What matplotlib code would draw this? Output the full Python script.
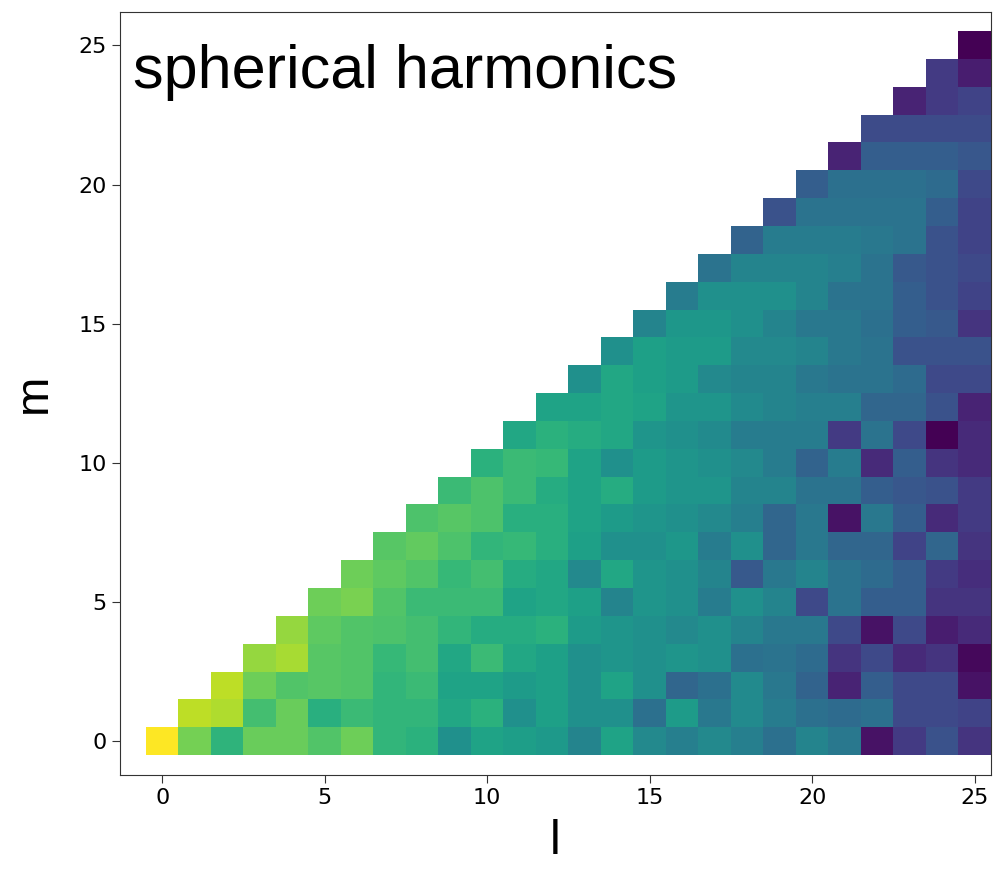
import numpy as np
import matplotlib
matplotlib.use("Agg")
import matplotlib.pyplot as plt

# colour value of each cell, row m holds l = m .. 25
power_m00 = [1.0, 0.79, 0.65, 0.77, 0.77, 0.73, 0.78, 0.66, 0.64, 0.50, 0.58, 0.56, 0.54, 0.45, 0.58, 0.47, 0.43, 0.47, 0.43, 0.37, 0.45, 0.40, 0.05, 0.17, 0.25, 0.15]
power_m01 = [0.90, 0.88, 0.70, 0.77, 0.63, 0.68, 0.66, 0.66, 0.60, 0.64, 0.50, 0.57, 0.50, 0.50, 0.37, 0.55, 0.40, 0.48, 0.42, 0.37, 0.35, 0.37, 0.22, 0.22, 0.20]
power_m02 = [0.90, 0.78, 0.73, 0.74, 0.73, 0.66, 0.68, 0.58, 0.58, 0.55, 0.57, 0.50, 0.58, 0.50, 0.33, 0.37, 0.48, 0.40, 0.32, 0.10, 0.30, 0.22, 0.22, 0.05]
power_m03 = [0.84, 0.87, 0.74, 0.73, 0.67, 0.70, 0.60, 0.68, 0.60, 0.57, 0.50, 0.52, 0.50, 0.52, 0.50, 0.37, 0.38, 0.35, 0.15, 0.22, 0.12, 0.15, 0.02]
power_m04 = [0.84, 0.75, 0.73, 0.72, 0.70, 0.66, 0.62, 0.62, 0.64, 0.55, 0.52, 0.50, 0.47, 0.50, 0.45, 0.40, 0.40, 0.22, 0.05, 0.22, 0.08, 0.12]
power_m05 = [0.78, 0.80, 0.73, 0.68, 0.68, 0.68, 0.58, 0.60, 0.57, 0.45, 0.52, 0.50, 0.42, 0.50, 0.45, 0.22, 0.38, 0.30, 0.30, 0.15, 0.15]
power_m06 = [0.78, 0.75, 0.73, 0.67, 0.70, 0.62, 0.60, 0.47, 0.60, 0.52, 0.50, 0.45, 0.28, 0.40, 0.45, 0.38, 0.35, 0.30, 0.17, 0.13]
power_m07 = [0.74, 0.76, 0.72, 0.66, 0.67, 0.63, 0.57, 0.50, 0.50, 0.53, 0.42, 0.50, 0.33, 0.40, 0.33, 0.33, 0.20, 0.33, 0.15]
power_m08 = [0.72, 0.74, 0.72, 0.63, 0.63, 0.58, 0.55, 0.52, 0.50, 0.47, 0.43, 0.33, 0.40, 0.05, 0.40, 0.30, 0.12, 0.17]
power_m09 = [0.68, 0.72, 0.68, 0.62, 0.58, 0.62, 0.55, 0.52, 0.52, 0.45, 0.45, 0.38, 0.38, 0.30, 0.27, 0.25, 0.17]
power_m10 = [0.64, 0.68, 0.67, 0.58, 0.50, 0.55, 0.52, 0.50, 0.47, 0.42, 0.32, 0.42, 0.12, 0.30, 0.15, 0.12]
power_m11 = [0.60, 0.64, 0.62, 0.60, 0.52, 0.50, 0.48, 0.42, 0.42, 0.42, 0.17, 0.38, 0.22, 0.0, 0.12]
power_m12 = [0.58, 0.58, 0.60, 0.58, 0.52, 0.52, 0.48, 0.45, 0.43, 0.43, 0.33, 0.33, 0.25, 0.10]
power_m13 = [0.50, 0.60, 0.57, 0.55, 0.47, 0.45, 0.45, 0.40, 0.38, 0.38, 0.35, 0.22, 0.22]
power_m14 = [0.50, 0.57, 0.55, 0.55, 0.47, 0.47, 0.45, 0.40, 0.38, 0.25, 0.25, 0.25]
power_m15 = [0.45, 0.53, 0.53, 0.50, 0.45, 0.40, 0.40, 0.37, 0.30, 0.28, 0.15]
power_m16 = [0.42, 0.50, 0.50, 0.50, 0.45, 0.38, 0.38, 0.30, 0.25, 0.20]
power_m17 = [0.38, 0.45, 0.45, 0.45, 0.43, 0.38, 0.28, 0.25, 0.22]
power_m18 = [0.32, 0.42, 0.42, 0.42, 0.40, 0.38, 0.25, 0.20]
power_m19 = [0.25, 0.38, 0.38, 0.38, 0.38, 0.30, 0.20]
power_m20 = [0.30, 0.37, 0.37, 0.37, 0.35, 0.22]
power_m21 = [0.10, 0.30, 0.30, 0.30, 0.27]
power_m22 = [0.23, 0.23, 0.23, 0.23]
power_m23 = [0.10, 0.17, 0.20]
power_m24 = [0.17, 0.08]
power_m25 = [0.0]

rows = [power_m00, power_m01, power_m02, power_m03, power_m04, power_m05,
        power_m06, power_m07, power_m08, power_m09, power_m10, power_m11,
        power_m12, power_m13, power_m14, power_m15, power_m16, power_m17,
        power_m18, power_m19, power_m20, power_m21, power_m22, power_m23,
        power_m24, power_m25]

lmax = 25
grid = np.full((lmax + 1, lmax + 1), np.nan)
for m, row in enumerate(rows):
    grid[m, m:] = row
grid = np.ma.masked_invalid(grid)

fig = plt.figure(figsize=(10.03, 8.69), dpi=100)
ax = fig.add_axes([120 / 1003, 1 - 775 / 869, 871 / 1003, 763 / 869])

ax.imshow(grid, origin="lower", cmap="viridis", vmin=0, vmax=1,
          extent=(-0.5, lmax + 0.5, -0.5, lmax + 0.5), aspect="auto",
          interpolation="nearest")
ax.set_xlim(-1.3, 25.5)
ax.set_ylim(-1.22, 26.2)
ax.set_xticks([0, 5, 10, 15, 20, 25])
ax.set_yticks([0, 5, 10, 15, 20, 25])
ax.tick_params(labelsize=16, length=6, color="#333333")
for s in ax.spines.values():
    s.set_color("#333333")

ax.set_xlabel("l", fontsize=35, family="Liberation Sans", labelpad=8)
ax.set_ylabel("m", fontsize=34, family="Liberation Sans", labelpad=16)
ax.text(0.015, 0.9, "spherical harmonics", transform=ax.transAxes,
        fontsize=44, family="Liberation Sans", va="baseline", ha="left")

fig.savefig("out.png", dpi=100)
plt.close(fig)
